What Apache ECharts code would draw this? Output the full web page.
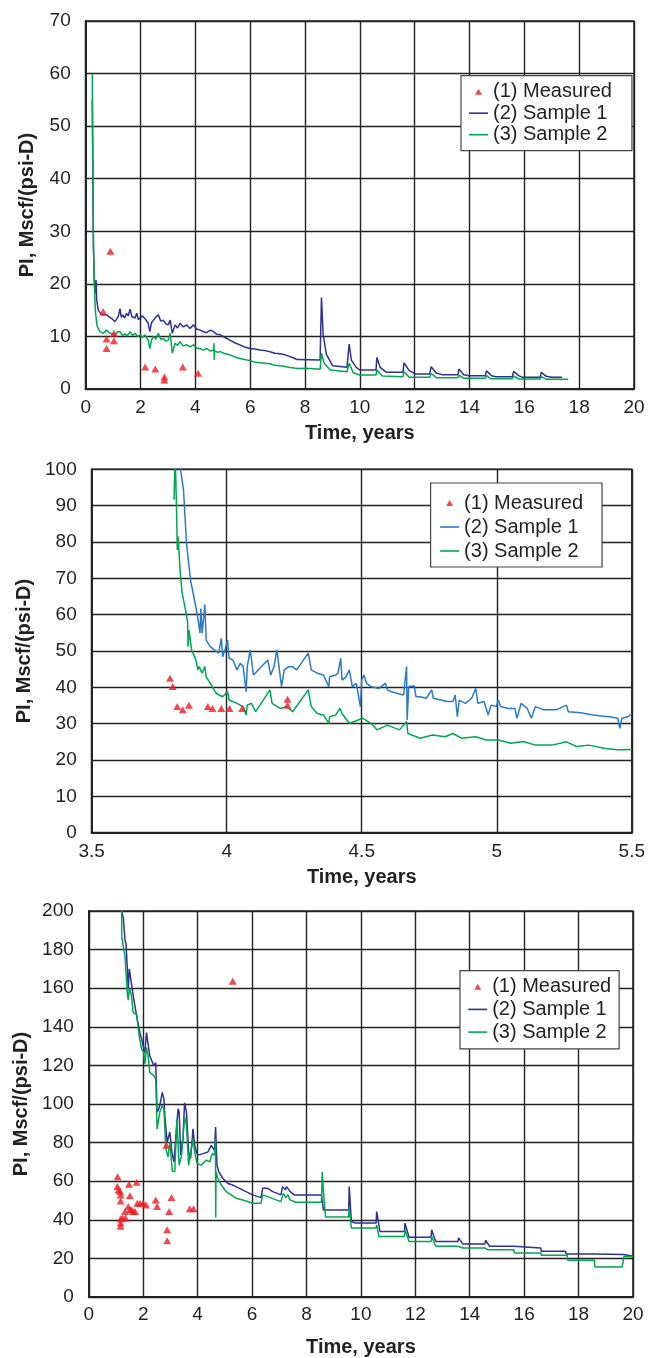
<!DOCTYPE html>
<html>
<head>
<meta charset="utf-8">
<script src="https://cdn.jsdelivr.net/npm/echarts@6/dist/echarts.min.js"></script>
<style>
html,body{margin:0;padding:0;background:#fff;}
#chart{width:648px;height:1358px;}
</style>
</head>
<body>
<div id="chart"></div>
<script>
// ---------- Labels ----------
const legendNames = ['(1) Measured', '(2) Sample 1', '(3) Sample 2'];
const xAxisTitle = 'Time, years';
const yAxisTitle = 'PI, Mscf/(psi-D)';

// ---------- Chart 1 (0-20 years, 0-70) ----------
const c1Measured = [[0.64,14.7],[0.90,26.2],[0.76,9.5],[0.76,7.7],[1.03,10.6],[1.03,9.2],[2.17,4.2],[2.54,3.8],[2.87,2.3],[2.87,1.7],[3.54,4.2],[4.10,3.0]];
const c1Sample1 = [[0.24,55],[0.28,27.1],[0.31,21.4],[0.34,18.2],[0.38,20.7],[0.40,16.9],[0.46,15.0],[0.58,14.1],[0.76,14.1],[0.95,13.4],[1.07,12.8],[1.19,13.8],[1.25,15.3],[1.30,13.6],[1.35,14.1],[1.42,13.5],[1.49,14.4],[1.55,13.9],[1.62,15.2],[1.68,13.8],[1.74,14.1],[1.80,13.5],[1.86,14.4],[1.92,13.2],[1.98,13.4],[2.07,13.9],[2.16,13.4],[2.28,12.5],[2.34,10.9],[2.40,12.6],[2.47,13.1],[2.56,13.7],[2.65,14.1],[2.74,12.9],[2.83,13.1],[2.92,12.4],[3.01,12.2],[3.08,13.1],[3.16,10.6],[3.26,12.2],[3.35,11.6],[3.44,12.5],[3.56,11.8],[3.69,12.2],[3.80,11.5],[3.93,12.2],[4.05,11.4],[4.17,11.2],[4.30,10.9],[4.41,10.7],[4.55,11.2],[4.66,10.9],[4.78,10.4],[4.91,10.3],[5.08,9.8],[5.26,9.3],[5.44,8.8],[5.62,8.4],[5.80,8.0],[5.99,7.7],[6.18,7.6],[6.36,7.4],[6.54,7.3],[6.72,7.1],[6.90,6.8],[7.09,6.7],[7.27,6.5],[7.45,6.15],[7.60,5.9],[7.70,5.6],[7.73,5.5],[8.55,5.5],[8.60,17.4],[8.66,10.4],[8.78,6.6],[9.01,4.4],[9.53,4.12],[9.61,8.56],[9.69,5.5],[9.87,4.12],[9.99,3.62],[10.59,3.62],[10.62,6.0],[10.74,4.12],[10.97,3.17],[11.57,3.17],[11.61,5.0],[11.80,3.49],[12.02,2.86],[12.55,2.86],[12.60,4.25],[12.78,3.04],[13.00,2.73],[13.58,2.73],[13.61,3.8],[13.79,2.73],[13.98,2.54],[14.58,2.54],[14.62,3.49],[14.80,2.54],[14.96,2.35],[15.56,2.35],[15.61,3.36],[15.79,2.54],[15.94,2.22],[16.57,2.22],[16.62,3.17],[16.80,2.41],[17.00,2.22],[17.37,2.22]];
const c1Sample2 = [[0.24,59.9],[0.254,48.6],[0.28,29.6],[0.31,20.1],[0.36,14.4],[0.42,11.9],[0.52,10.9],[0.64,10.6],[0.76,11.2],[0.89,10.6],[1.07,10.3],[1.16,10.9],[1.25,10.9],[1.34,10.2],[1.43,10.5],[1.52,10.1],[1.62,10.9],[1.71,10.2],[1.80,10.6],[1.89,10.0],[1.98,10.3],[2.07,9.8],[2.16,10.3],[2.28,9.3],[2.34,7.7],[2.40,9.3],[2.47,10.0],[2.56,9.5],[2.65,10.6],[2.74,9.4],[2.83,9.6],[2.92,9.1],[3.01,9.3],[3.08,10.6],[3.16,6.8],[3.26,8.7],[3.35,8.3],[3.44,9.0],[3.56,8.2],[3.69,8.4],[3.80,8.0],[3.93,8.4],[4.05,7.8],[4.17,7.7],[4.30,7.4],[4.41,7.7],[4.55,7.2],[4.66,7.4],[4.68,8.7],[4.69,5.5],[4.70,7.3],[4.80,7.0],[4.91,7.1],[5.08,6.7],[5.26,6.5],[5.44,6.1],[5.62,5.8],[5.80,5.6],[5.99,5.4],[6.18,5.1],[6.36,5.0],[6.54,4.9],[6.72,4.8],[6.90,4.5],[7.09,4.4],[7.27,4.3],[7.45,4.1],[7.60,4.0],[7.76,3.9],[8.03,3.93],[8.55,3.75],[8.60,6.8],[8.70,4.87],[8.93,3.6],[9.53,3.27],[9.61,4.87],[9.76,3.1],[9.99,2.66],[10.59,2.66],[10.62,3.6],[10.82,2.47],[11.57,2.35],[11.61,3.3],[11.80,2.22],[12.55,2.22],[12.60,3.0],[12.78,2.16],[13.58,2.16],[13.61,2.66],[13.79,2.03],[14.58,2.03],[14.62,2.54],[14.78,1.97],[15.56,1.97],[15.61,2.47],[15.79,1.9],[16.57,1.9],[16.62,2.35],[16.80,1.84],[17.60,1.84]];

// ---------- Chart 2 (3.5-5.5 years, 0-100) ----------
const c2Measured = [[3.79,42.5],[3.80,40.2],[3.817,34.7],[3.837,33.8],[3.86,35.1],[3.93,34.7],[3.947,34.2],[3.98,34.2],[4.01,34.2],[4.057,34.2],[4.225,36.7],[4.225,35.1]];
const c2Sample1 = [[3.826,112],[3.829,100],[3.840,94.3],[3.851,79.6],[3.855,76.9],[3.866,69.5],[3.878,65.0],[3.890,60.4],[3.901,54.9],[3.904,61.7],[3.909,54.9],[3.919,62.7],[3.924,53.0],[3.939,51.2],[3.954,50.3],[3.970,49.4],[3.980,53.5],[3.985,48.4],[3.995,50.7],[4.003,53.0],[4.009,48.0],[4.023,47.5],[4.038,44.8],[4.050,46.6],[4.061,45.7],[4.072,38.8],[4.076,45.7],[4.087,50.3],[4.099,43.4],[4.152,47.5],[4.163,43.4],[4.175,45.7],[4.186,50.3],[4.195,44.8],[4.203,40.2],[4.213,44.8],[4.229,45.7],[4.244,45.7],[4.259,44.8],[4.302,49.4],[4.313,44.8],[4.335,43.9],[4.358,43.4],[4.378,40.2],[4.381,42.9],[4.404,43.4],[4.412,43.9],[4.422,48.0],[4.427,42.0],[4.442,42.9],[4.454,44.8],[4.465,40.2],[4.480,41.1],[4.495,34.7],[4.500,42.0],[4.508,43.4],[4.518,41.1],[4.534,40.2],[4.564,39.7],[4.587,41.1],[4.595,39.3],[4.610,38.8],[4.633,38.3],[4.655,37.9],[4.666,45.7],[4.668,31.0],[4.674,40.2],[4.694,40.4],[4.701,37.4],[4.716,37.4],[4.739,37.0],[4.759,39.3],[4.765,37.0],[4.793,36.5],[4.816,36.1],[4.838,36.1],[4.846,37.9],[4.854,31.9],[4.861,36.5],[4.884,35.6],[4.907,37.0],[4.922,39.7],[4.930,35.6],[4.953,36.1],[4.968,32.4],[4.979,35.1],[4.998,34.7],[5.006,36.5],[5.014,34.7],[5.044,34.2],[5.067,34.2],[5.075,31.5],[5.090,35.6],[5.113,34.2],[5.128,31.5],[5.143,34.7],[5.174,33.8],[5.220,33.8],[5.258,35.1],[5.265,33.3],[5.311,33.0],[5.357,32.4],[5.387,32.1],[5.418,31.9],[5.448,31.5],[5.456,28.7],[5.463,31.5],[5.486,31.9],[5.501,32.8]];
const c2Sample2 = [[3.805,91.6],[3.809,104],[3.814,89.7],[3.817,77.8],[3.820,81.5],[3.828,71.4],[3.835,65.9],[3.845,62.2],[3.855,58.1],[3.857,51.2],[3.860,55.8],[3.870,50.3],[3.886,47.5],[3.893,44.8],[3.898,45.7],[3.909,43.9],[3.919,45.7],[3.924,42.9],[3.939,41.1],[3.962,38.3],[3.985,37.4],[4.003,38.8],[4.009,36.5],[4.038,35.6],[4.061,34.7],[4.072,32.4],[4.076,35.1],[4.091,35.6],[4.107,33.3],[4.160,39.3],[4.168,35.6],[4.198,34.2],[4.221,34.7],[4.244,33.3],[4.302,39.3],[4.313,34.7],[4.335,32.8],[4.358,32.4],[4.378,30.1],[4.381,31.9],[4.404,32.4],[4.419,34.2],[4.427,32.8],[4.454,30.1],[4.473,30.6],[4.503,31.5],[4.534,30.1],[4.556,28.3],[4.595,29.6],[4.640,28.3],[4.666,30.6],[4.671,27.3],[4.716,26.0],[4.762,26.9],[4.808,26.4],[4.838,27.3],[4.869,26.0],[4.922,26.4],[4.960,25.5],[5.006,25.5],[5.052,24.6],[5.098,25.1],[5.143,24.1],[5.204,24.1],[5.258,25.0],[5.296,23.7],[5.341,24.1],[5.402,23.2],[5.448,22.8],[5.501,22.9]];

// ---------- Chart 3 (0-20 years, 0-200) ----------
const c3Measured = [[1.06,62.3],[1.05,57.2],[1.09,55.5],[1.15,54.6],[1.17,52.9],[1.17,49.8],[1.17,40.5],[1.17,38.3],[1.17,36.6],[1.24,40.9],[1.35,40.9],[1.33,44.3],[1.45,46.9],[1.48,58.4],[1.51,52.5],[1.51,45.2],[1.57,45.2],[1.63,44.3],[1.70,44.3],[1.76,59.4],[1.78,48.6],[1.88,48.6],[2.00,48.6],[2.10,47.7],[2.46,50.3],[2.51,46.9],[2.88,34.9],[2.88,29.2],[2.95,44.3],[3.04,51.5],[2.85,78.6],[3.71,45.7],[3.85,45.7],[5.29,163.6]];
const c3Sample1 = [[1.207,200],[1.27,196.2],[1.33,185],[1.366,183.3],[1.415,170.5],[1.45,159.3],[1.49,170],[1.54,169.6],[1.634,155.9],[1.70,155.9],[1.78,143.9],[1.88,137],[1.94,133.6],[2.00,130],[2.06,126.7],[2.12,137],[2.18,137],[2.24,125],[2.39,119.8],[2.46,121.5],[2.51,95.8],[2.56,97],[2.61,99.2],[2.70,106],[2.76,102.7],[2.80,92.4],[2.88,80.3],[2.98,85.5],[3.05,75.2],[3.13,70],[3.22,87.2],[3.28,97.5],[3.32,95.8],[3.38,73.5],[3.46,82.1],[3.52,100.6],[3.59,95.8],[3.67,75.2],[3.74,71.8],[3.83,87.2],[3.89,78.6],[3.95,75.2],[4.01,73.5],[4.20,74.3],[4.38,75.2],[4.50,78.6],[4.56,79.5],[4.62,76],[4.66,88.1],[4.71,68.3],[4.78,64.8],[4.93,61.4],[5.11,58.8],[5.29,58],[5.54,56.3],[5.78,54.6],[6.02,52.9],[6.33,51.5],[6.39,56.3],[6.57,56.3],[6.76,54.6],[7.06,52.9],[7.12,57.2],[7.22,55.5],[7.27,57.2],[7.40,54.6],[7.55,52.9],[8.55,52.9],[8.62,45.1],[9.55,45.1],[9.57,57.2],[9.65,39.1],[9.80,38.3],[10.56,38.3],[10.58,44.3],[10.70,34],[11.60,34],[11.62,38.3],[11.77,30.9],[12.58,30.9],[12.60,34.8],[12.75,28.8],[13.57,28.8],[13.59,30.6],[13.74,27.5],[14.56,27.5],[14.58,29.4],[14.73,26.3],[15.62,26.3],[15.64,25.4],[16.61,25.4],[16.63,23.7],[17.52,23.7],[17.54,22.3],[18.58,22.3],[18.60,22],[19.65,22],[19.67,21.5],[20.0,21.1]];
const c3Sample2 = [[1.207,203],[1.21,186.8],[1.27,185.9],[1.33,176.5],[1.415,157.6],[1.45,153.8],[1.49,160.2],[1.57,155.9],[1.63,147.3],[1.76,146.4],[1.85,135.3],[1.94,128.4],[2.02,126.7],[2.06,120.7],[2.12,129.3],[2.18,125],[2.24,116.4],[2.39,114.7],[2.46,113],[2.51,87],[2.61,95.8],[2.70,99.2],[2.76,97.5],[2.83,76.9],[2.91,72.6],[2.98,80.3],[3.07,65],[3.16,65],[3.24,92.4],[3.32,68.3],[3.41,73.5],[3.52,93.3],[3.59,88.9],[3.67,68.3],[3.74,68.3],[3.83,82],[3.89,75.2],[3.98,69.2],[4.13,68.3],[4.32,70.9],[4.44,70],[4.54,74.3],[4.62,73.5],[4.655,82],[4.665,41.2],[4.675,64.9],[4.74,61.4],[4.87,58],[5.05,54.6],[5.41,51.2],[5.66,50.3],[6.02,48.6],[6.33,48.6],[6.39,52.9],[6.57,52],[7.06,49.4],[7.15,53.7],[7.24,51.5],[7.32,52.9],[7.40,50.3],[7.60,49.1],[8.55,49.1],[8.58,64.9],[8.62,55],[8.70,41.5],[9.55,41.5],[9.57,46],[9.65,35.7],[10.56,35.7],[10.58,37.4],[10.66,31.4],[11.60,31.4],[11.62,34.8],[11.77,28.8],[12.58,28.8],[12.60,31.4],[12.75,26.3],[13.57,26.3],[13.59,27.1],[13.74,25.4],[14.56,25.4],[14.58,25.4],[14.65,24.5],[15.62,24.5],[15.64,22.8],[16.61,22.8],[16.63,21.6],[17.58,21.6],[17.60,19.1],[18.58,19.1],[18.60,15.6],[19.60,15.6],[19.67,21.1],[20.0,20.8]];

// ---------- Styling ----------
const FONT = "'Liberation Sans', Arial, Helvetica, sans-serif";
const TXT = '#231f20';
const GRIDC = '#222';
const RED = '#ed1c24';
const NAVY = '#2e3192';
const MIDBLUE = '#2b7bc4';
const GREEN = '#00a651';
const LINE_ICON = 'path://M0,0 L19,0 L19,1.6 L0,1.6 Z';
const TRI_ICON = 'path://M3.5,0 L7,6 L0,6 Z';

const panels = [
  {grid:{left:85.7, top:21, width:548.3, height:368}, xmin:0, xmax:20, xint:2, ymin:0, ymax:70, yint:10,
   xLabelMargin:9, xNameGap:34, yNameGap:48, s1Color:NAVY,
   legend:{left:461, top:75.7, gap:1.5, padding:[6,20,6,8]},
   measured:c1Measured, s1:c1Sample1, s2:c1Sample2},
  {grid:{left:91.7, top:469.3, width:542.3, height:363.4}, xmin:3.5, xmax:5.5, xint:0.5, ymin:0, ymax:100, yint:10,
   xLabelMargin:10, xNameGap:35, yNameGap:57, s1Color:MIDBLUE,
   legend:{left:430.6, top:483, gap:4, padding:[10,19,6,9.5]},
   measured:c2Measured, s1:c2Sample1, s2:c2Sample2},
  {grid:{left:88.8, top:911, width:544.2, height:388.3}, xmin:0, xmax:20, xint:2, ymin:0, ymax:200, yint:20,
   xLabelMargin:8, xNameGap:40, yNameGap:56, s1Color:NAVY,
   legend:{left:460, top:970.7, gap:2.7, padding:[6,8,6.7,8.2]},
   measured:c3Measured, s1:c3Sample1, s2:c3Sample2}
];

const option = {
  animation:false,
  backgroundColor:'#fff',
  textStyle:{fontFamily:FONT},
  grid:[], xAxis:[], yAxis:[], legend:[], series:[]
};

panels.forEach((p, i) => {
  option.grid.push(Object.assign({show:true, borderColor:GRIDC, borderWidth:1.5, backgroundColor:'#fff', containLabel:false}, p.grid));
  option.xAxis.push({
    type:'value', gridIndex:i, min:p.xmin, max:p.xmax, interval:p.xint,
    name:xAxisTitle, nameLocation:'middle', nameGap:p.xNameGap,
    nameTextStyle:{fontFamily:FONT, fontSize:20, fontWeight:'bold', color:TXT},
    axisLine:{show:true, onZero:false, lineStyle:{color:GRIDC, width:2}},
    axisTick:{show:false},
    axisLabel:{fontFamily:FONT, fontSize:19, color:TXT, margin:p.xLabelMargin, showMinLabel:true, showMaxLabel:true, hideOverlap:false},
    splitLine:{show:true, lineStyle:{color:GRIDC, width:1.4}}
  });
  option.yAxis.push({
    type:'value', gridIndex:i, min:p.ymin, max:p.ymax, interval:p.yint,
    name:yAxisTitle, nameLocation:'middle', nameGap:p.yNameGap,
    nameTextStyle:{fontFamily:FONT, fontSize:20, fontWeight:'bold', color:TXT},
    axisLine:{show:true, onZero:false, lineStyle:{color:GRIDC, width:2}},
    axisTick:{show:false},
    axisLabel:{fontFamily:FONT, fontSize:19, color:TXT, margin:15},
    splitLine:{show:true, lineStyle:{color:GRIDC, width:1.4}}
  });
  option.legend.push({
    orient:'vertical', left:p.legend.left, top:p.legend.top, itemGap:p.legend.gap,
    padding:p.legend.padding, itemWidth:19, itemHeight:6, symbolKeepAspect:true,
    backgroundColor:'#fff', borderColor:'#444', borderWidth:1.2,
    textStyle:{fontFamily:FONT, fontSize:20, color:TXT},
    selectedMode:false,
    data:[
      {name:legendNames[0], icon:TRI_ICON, itemStyle:{color:RED}},
      {name:legendNames[1], icon:LINE_ICON, itemStyle:{color:p.s1Color}},
      {name:legendNames[2], icon:LINE_ICON, itemStyle:{color:GREEN}}
    ]
  });
  option.series.push({
    name:legendNames[1], type:'line', xAxisIndex:i, yAxisIndex:i, data:p.s1,
    symbol:'none', clip:true, lineStyle:{color:p.s1Color, width:1.5}, itemStyle:{color:p.s1Color}, z:3
  });
  option.series.push({
    name:legendNames[2], type:'line', xAxisIndex:i, yAxisIndex:i, data:p.s2,
    symbol:'none', clip:true, lineStyle:{color:GREEN, width:1.5}, itemStyle:{color:GREEN}, z:4
  });
  option.series.push({
    name:legendNames[0], type:'scatter', xAxisIndex:i, yAxisIndex:i, data:p.measured,
    symbol:'triangle', symbolSize:[8,7], itemStyle:{color:RED}, z:5
  });
});

const chart = echarts.init(document.getElementById('chart'), null, {renderer:'canvas'});
chart.setOption(option);
</script>
</body>
</html>
